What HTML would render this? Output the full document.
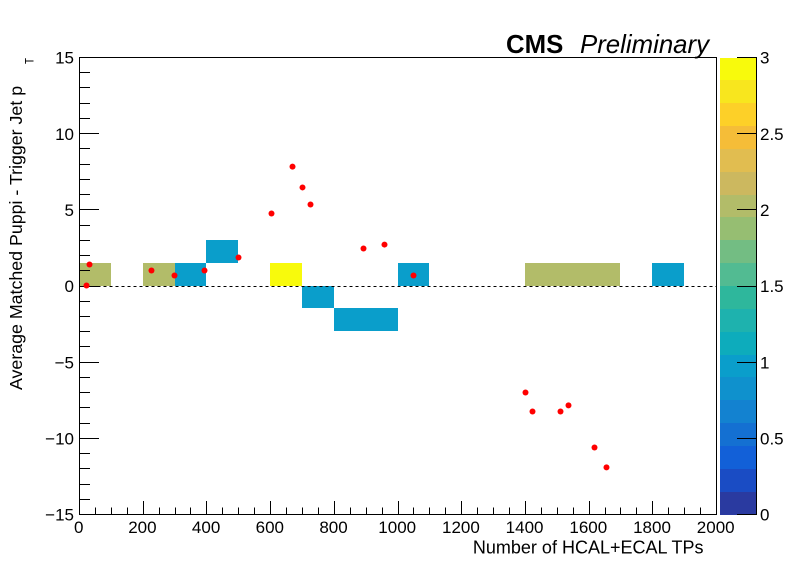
<!DOCTYPE html>
<html>
<head>
<meta charset="utf-8">
<style>
html,body{margin:0;padding:0;background:#fff;}
svg{display:block;font-family:"Liberation Sans",sans-serif;}
text{fill:#000;}
</style>
</head>
<body>
<svg id="chart" width="796" height="572" viewBox="0 0 796 572" xmlns="http://www.w3.org/2000/svg">
<g id="cells" shape-rendering="crispEdges"></g>
<g id="palette" shape-rendering="crispEdges"></g>
<g id="axes"></g>
<g id="points"></g>
<text x="506" y="53" font-size="25.8" font-weight="bold">CMS</text>
<text x="580" y="53" font-size="25.8" font-style="italic">Preliminary</text>
<text x="703.5" y="553.5" font-size="18" text-anchor="end">Number of HCAL+ECAL TPs</text>
<text transform="translate(22,390) rotate(-90)" font-size="17.8">Average Matched Puppi - Trigger Jet p</text>
<text transform="translate(33.3,64) rotate(-90)" font-size="12" textLength="6" lengthAdjust="spacingAndGlyphs">T</text>
</svg>
<script>
const cellXLow = [0, 200, 300, 400, 600, 700, 800, 900, 1000, 1400, 1500, 1600, 1800];
const cellYLow = [0, 0, 0, 1.5, 0, -1.5, -3, -3, 0, 0, 0, 0, 0];
const cellCount = [2, 2, 1, 1, 3, 1, 1, 1, 1, 2, 2, 2, 1];
const pointX = [22, 31.4, 226, 298.3, 392.5, 499.2, 602.8, 668.8, 700.2, 725.3, 891.7, 957.6, 1048.7, 1400.3, 1422.3, 1510.2, 1535.3, 1617, 1654.6];
const pointY = [0.03, 1.41, 1.02, 0.69, 1.02, 1.87, 4.76, 7.84, 6.47, 5.35, 2.46, 2.72, 0.69, -6.99, -8.24, -8.24, -7.84, -10.6, -11.91];
const xTickLabels = [0, 200, 400, 600, 800, 1000, 1200, 1400, 1600, 1800, 2000];
const yTickLabels = [-15, -10, -5, 0, 5, 10, 15];
const zTickLabels = [0, 0.5, 1, 1.5, 2, 2.5, 3];
const paletteColors = ['#2a3aa0','#1a4cc4','#1260d8','#1470d2','#1382d0','#0f91cd','#0a9ecb','#0dacbc','#1eb2ae','#2eb79c','#52bb92','#73bd83','#96be72','#b2bc69','#ccb85f','#e1bd50','#f5bd38','#fdd028','#f8e61e','#f8fa0c'];

const NS = 'http://www.w3.org/2000/svg';
const X0 = 79.5, X1 = 716.5, Y0 = 514.5, Y1 = 57.5;
const binW = 100, binH = 1.5;
const zMax = 3, ZX0 = 720, ZX1 = 756;
const sx = v => X0 + (v / 2000) * (X1 - X0);
const sy = v => Y0 - ((v + 15) / 30) * (Y0 - Y1);
const sz = v => Y0 - (v / zMax) * (Y0 - Y1);
const snap = v => Math.floor(v) + 0.5;
const colorFor = v => paletteColors[Math.min(paletteColors.length - 1, Math.floor(v / zMax * paletteColors.length))];

function make(tag, parent, attrs) {
  const el = document.createElementNS(NS, tag);
  for (const k in attrs) el.setAttribute(k, attrs[k]);
  parent.appendChild(el);
  return el;
}
function line(parent, x1, y1, x2, y2) {
  return make('line', parent, {x1, y1, x2, y2, stroke: '#000', 'stroke-width': 1, 'shape-rendering': 'crispEdges'});
}
function label(parent, x, y, str, anchor) {
  const el = make('text', parent, {x, y, 'font-size': 17, 'text-anchor': anchor});
  el.textContent = str;
  return el;
}
const fmt = v => String(v).replace('-', '\u2212');

const cellsG = document.getElementById('cells');
cellXLow.forEach((xv, i) => {
  const px = Math.floor(sx(xv)), py = Math.floor(sy(cellYLow[i] + binH));
  const r = make('rect', cellsG, {x: px, y: py, width: Math.floor(sx(xv + binW)) - px, height: Math.floor(sy(cellYLow[i])) - py, fill: colorFor(cellCount[i])});
  
  
});

const paletteG = document.getElementById('palette');
paletteColors.forEach((c, i) => {
  const lo = i / paletteColors.length * zMax, hi = (i + 1) / paletteColors.length * zMax;
  const top = Math.round(sz(hi)), bottom = Math.round(sz(lo));
  const r = make('rect', paletteG, {x: ZX0, y: top, width: ZX1 - ZX0, height: bottom - top, fill: c});
  
  
});

const axesG = document.getElementById('axes');
const frame = make('rect', axesG, {x: X0, y: Y1, width: X1 - X0, height: Y0 - Y1, fill: 'none', stroke: '#000', 'stroke-width': 1, 'shape-rendering': 'crispEdges'});



const zero = make('line', axesG, {x1: X0, y1: snap(sy(0)), x2: X1, y2: snap(sy(0)), stroke: '#000', 'stroke-width': 1, 'stroke-dasharray': '3 3', 'shape-rendering': 'crispEdges'});



for (let v = 50; v < 2000; v += 50) {
  const major = v % 200 === 0;
  const t = line(axesG, snap(sx(v)), Y0, snap(sx(v)), Y0 - (major ? 13.5 : 7));
  
  
}
xTickLabels.forEach(v => {
  const t = label(axesG, sx(v) - 0.8, 533, fmt(v), 'middle');
  
  
});

for (let v = -14; v < 15; v += 1) {
  const major = v % 5 === 0;
  const t = line(axesG, X0, snap(sy(v)), X0 + (major ? 19.5 : 10.5), snap(sy(v)));
  
  
}
yTickLabels.forEach(v => {
  const t = label(axesG, 74, sy(v) + 6.2, fmt(v), 'end');
  
  
});

const zAxis = line(axesG, ZX1 + 0.5, Y1, ZX1 + 0.5, Y0);


zTickLabels.forEach(v => {
  const t = line(axesG, ZX1 - 19, snap(sz(v)), ZX1 + 1, snap(sz(v)));
  
  
  const l = label(axesG, 760, sz(v) + 6.2, fmt(v), 'start');
  
  
});

const pointsG = document.getElementById('points');
pointX.forEach((xv, i) => {
  const c = make('circle', pointsG, {cx: sx(xv), cy: sy(pointY[i]), r: 3, fill: '#ff0000'});
  
  
});
</script>
</body>
</html>
